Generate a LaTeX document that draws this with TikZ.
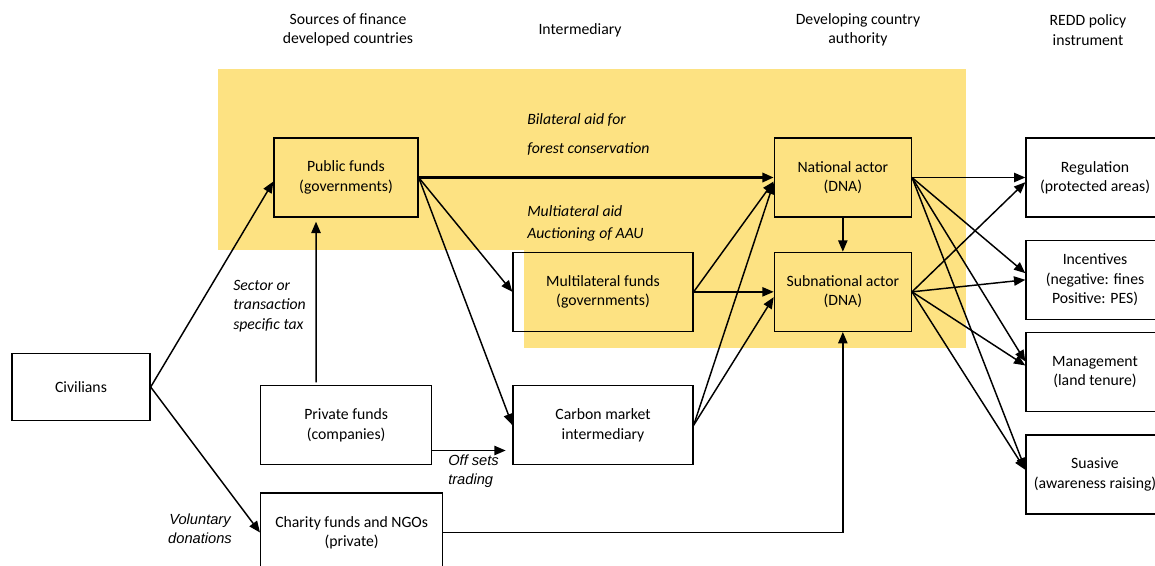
\documentclass[tikz,border=0pt]{standalone}
\usepackage{fontspec}
\setmainfont{Carlito}
\newfontfamily\arialish{Liberation Sans}
\usepackage{xcolor}
\definecolor{cBand}{HTML}{FDE282}
\definecolor{cInk}{HTML}{000000}
\usetikzlibrary{positioning,arrows.meta,backgrounds}
\tikzset{
  fund-box/.style={draw=cInk,line width=1pt,minimum height=59.25pt,
    align=center,inner sep=2pt},
  tool-box/.style={fund-box,minimum width=103.5pt},
  head/.style={align=center,inner sep=0pt},
  note/.style={align=left,inner sep=0pt,font=\fontsize{11.8}{14.6}\selectfont\itshape},
  note-wide/.style={inner sep=0pt,font=\fontsize{11}{14.2}\selectfont\arialish\itshape},
  arrow/.style={-{Triangle[length=8.5pt,width=7pt]},line width=1.1pt,draw=cInk},
}

\begin{document}
\begin{tikzpicture}[x=0.75pt,y=-0.75pt,font=\fontsize{11.8}{14.5}\selectfont]
  \useasboundingbox (0,0) rectangle (1155,565);
  % column heads
  \node[head] (h-src) at (348,30) {Sources of finance\\developed countries};
  \node[head] (h-int) at (580,30) {Intermediary};
  \node[head] (h-dev) at (858,30) {Developing country\\authority};
  \node[head] (h-redd) at (1088,30) {REDD policy\\instrument};
  % funds and actors
  \node[fund-box,minimum width=108pt] (pub) at (346,177.5) {Public funds\\(governments)};
  \node[fund-box,minimum width=102.75pt,right=266.25pt of pub] (nat) {National actor\\(DNA)};
  \node[fund-box,minimum width=102.75pt,below=25.5pt of nat] (sub) {Subnational actor\\(DNA)};
  \node[fund-box,minimum width=135pt,left=60pt of sub] (multi) {Multilateral funds\\(governments)};
  \node[fund-box,minimum width=135pt,below=39.75pt of multi] (carb) {Carbon market\\intermediary};
  \node[fund-box,minimum width=128.25pt,left=60pt of carb] (priv) {Private funds\\(companies)};
  \node[fund-box,minimum width=136.5pt,below=20.25pt of priv.south west,anchor=north west] (char) {Charity funds and NGOs\\(private)};
  \node[fund-box,minimum width=103.5pt,minimum height=50.25pt] (civ) at (81,387) {Civilians};
  % policy instruments
  \node[tool-box,right=84pt of nat,xshift=1pt] (reg) {Regulation\\(protected areas)};
  \node[tool-box,below=16.5pt of reg] (inc) {Incentives\\(negative: fines\\Positive: PES)};
  \node[tool-box,below=9pt of inc] (mgmt) {Management\\(land tenure)};
  \node[tool-box,below=16.5pt of mgmt] (sua) {Suasive\\(awareness raising)};
  % flow labels
  \node[note,anchor=west] (l-bil) at (527,134.5) {Bilateral aid for\\[7pt]forest conservation};
  \node[note,anchor=west] (l-mul) at (527,223) {Multiateral aid\\[2pt]Auctioning of AAU};
  \node[note,anchor=west] (l-tax) at (233,306) {Sector or\\transaction\\specific tax};
  \node[note-wide,align=left,anchor=west] (l-off) at (448,471.5) {Off sets\\trading};
  \node[note-wide,align=center] (l-vol) at (200,528.5) {Voluntary\\donations};
  % yellow band behind the public side
  \begin{scope}[on background layer]
    \fill[cBand] (218,69) rectangle (966,250);
    \fill[cBand] (524,250) rectangle (966,348);
  \end{scope}
  % money flows
  \draw[arrow] (civ.east) -- ([yshift=-3pt]pub.west);
  \draw[arrow] (civ.east) -- (char.west);
  \draw[arrow] ([xshift=-22.5pt,yshift=2pt]priv.north) -- ([xshift=-22.5pt,yshift=-3pt]pub.south);
  \draw[arrow,line width=1.8pt] (pub.east) -- (nat.west);
  \draw[arrow] (pub.east) -- (multi.west);
  \draw[arrow] (pub.east) -- (carb.west);
  \draw[arrow] ([yshift=-19pt]priv.east) -- ([xshift=-5pt,yshift=-19pt]carb.west);
  \draw[arrow] (multi.east) -- ([yshift=-3pt]nat.west);
  \draw[arrow] (multi.east) -- (sub.west);
  \draw[arrow] (carb.east) -- ([yshift=-4pt]nat.west);
  \draw[arrow] (carb.east) -- ([yshift=-4pt]sub.west);
  \draw[arrow] (nat.south) -- (sub.north);
  \draw[arrow] (char.east) -| (sub.south);
  % actors to instruments
  \draw[arrow] (nat.east) -- (reg.west);
  \draw[arrow] (nat.east) -- ([yshift=5pt]inc.west);
  \draw[arrow] (nat.east) -- ([yshift=8pt]mgmt.west);
  \draw[arrow] (nat.east) -- ([yshift=4pt]sua.west);
  \draw[arrow] (sub.east) -- ([yshift=-3.5pt]reg.west);
  \draw[arrow] (sub.east) -- (inc.west);
  \draw[arrow] (sub.east) -- ([yshift=5pt]mgmt.west);
  \draw[arrow] (sub.east) -- ([yshift=3.5pt]sua.west);
\end{tikzpicture}
\end{document}
